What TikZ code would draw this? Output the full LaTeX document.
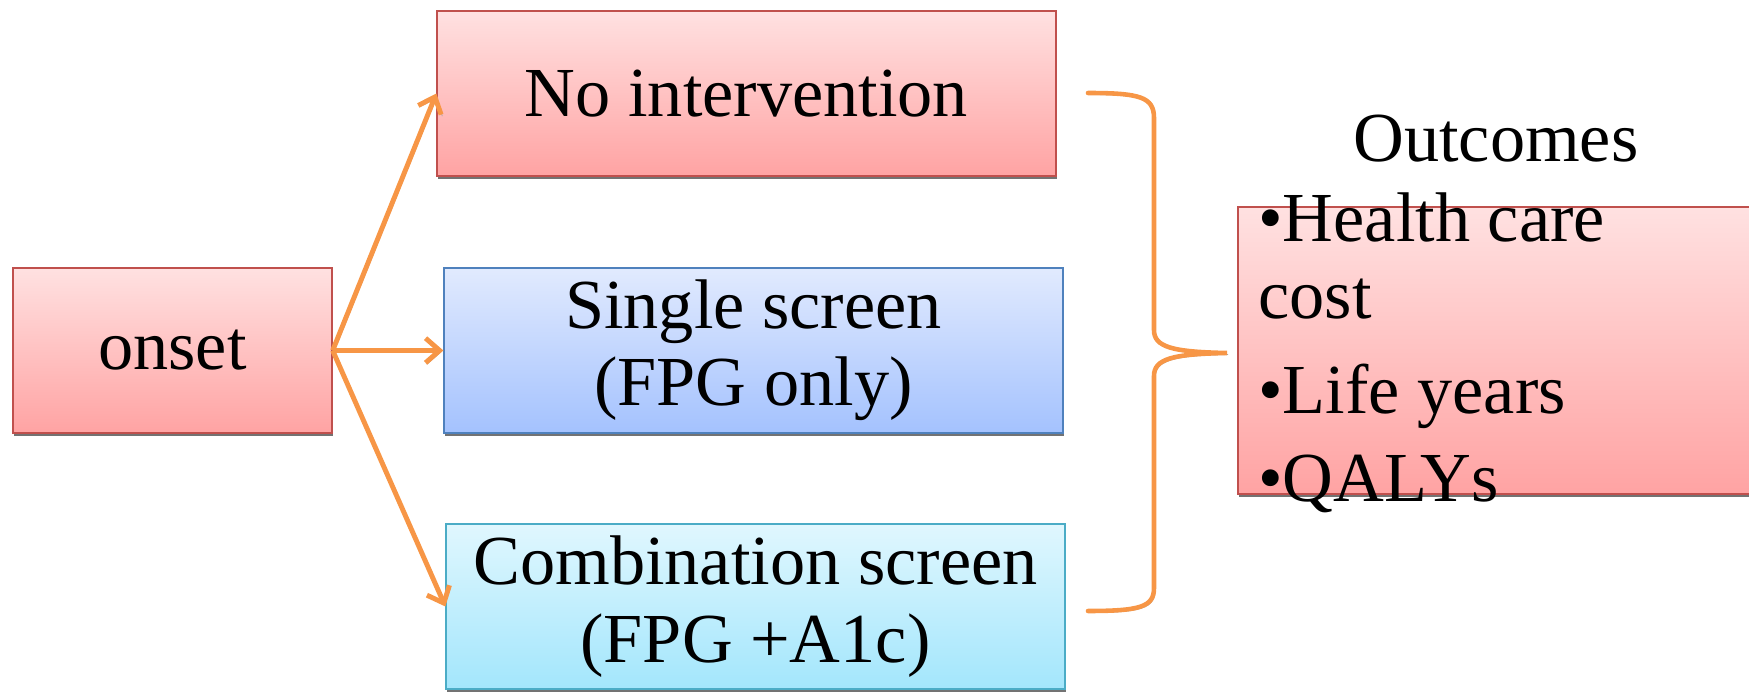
\documentclass[tikz,border=0pt]{standalone}
\usepackage{fontspec}
\setmainfont{Liberation Serif}
\usepackage{tikz}
\usetikzlibrary{arrows.meta,shadows}
\definecolor{redline}{HTML}{C0504D}
\definecolor{redtop}{HTML}{FFE1E1}
\definecolor{redbot}{HTML}{FFA3A3}
\definecolor{blueline}{HTML}{4F81BD}
\definecolor{bluetop}{HTML}{E1EAFE}
\definecolor{bluebot}{HTML}{A4C2FE}
\definecolor{cyanline}{HTML}{4BACC6}
\definecolor{cyantop}{HTML}{E0F7FE}
\definecolor{cyanbot}{HTML}{A3E6FC}
\definecolor{flowc}{HTML}{F79646}
\tikzset{
  box/.style={rectangle, line width=0.8pt, inner sep=0pt, minimum height=3.3cm, align=center,
    font=\fontsize{40}{44}\selectfont,
    drop shadow={shadow xshift=0.4pt, shadow yshift=-1.6pt, fill=black!55, opacity=1}},
  redbox/.style={box, draw=redline, top color=redtop, bottom color=redbot},
  bluebox/.style={box, draw=blueline, top color=bluetop, bottom color=bluebot},
  cyanbox/.style={box, draw=cyanline, top color=cyantop, bottom color=cyanbot},
  flow/.style={draw=flowc, line width=2.8pt, -{Straight Barb[length=8pt,width=14pt]},
    preaction={draw=black!35, transform canvas={shift={(0.7pt,-0.9pt)}}}},
  brace/.style={draw=flowc, line width=2.6pt, line cap=round,
    preaction={draw=black!35, transform canvas={shift={(0.7pt,-0.9pt)}}}},
}
\begin{document}
\begin{tikzpicture}[x=0.02cm, y=-0.02cm]
\useasboundingbox (0,0) rectangle (1749,692);
\node[redbox, minimum width=10.44cm, minimum height=5.74cm] (outbox) at (1499,350.5) {};
\node[redbox, minimum width=6.38cm] (onset) at (172.5,350.5) {onset};
\node[redbox, minimum width=12.38cm] (noint) at (746.5,93.5) {No intervention};
\node[bluebox, minimum width=12.38cm] (single) at (753.5,350.5) {Single screen\\(FPG only)};
\node[cyanbox, minimum width=12.38cm] (comb) at (755.5,606.5) {Combination screen\\(FPG +A1c)};
\draw[flow] (onset.east) -- (noint.west);
\draw[flow] (onset.east) -- (single.west);
\draw[flow] (onset.east) -- (comb.west);
\draw[brace] (1088,93) .. controls (1140,93) and (1154,97) .. (1154,118) -- (1154,330)
  .. controls (1154,347) and (1172,352) .. (1227,353) .. controls (1172,354) and (1154,359) .. (1154,376)
  -- (1154,588) .. controls (1154,607) and (1140,611) .. (1088,611);
\node[font=\fontsize{40}{44}\selectfont] (outtitle) at (1496,139) {Outcomes};
\node[anchor=base west, align=left, inner sep=0pt, font=\fontsize{40}{44.2}\selectfont] (outlist) at (1258,502)
  {\textbullet Health care\\cost\\[0.34cm]\textbullet Life years\\[0.22cm]\textbullet QALYs};
\end{tikzpicture}
\end{document}
